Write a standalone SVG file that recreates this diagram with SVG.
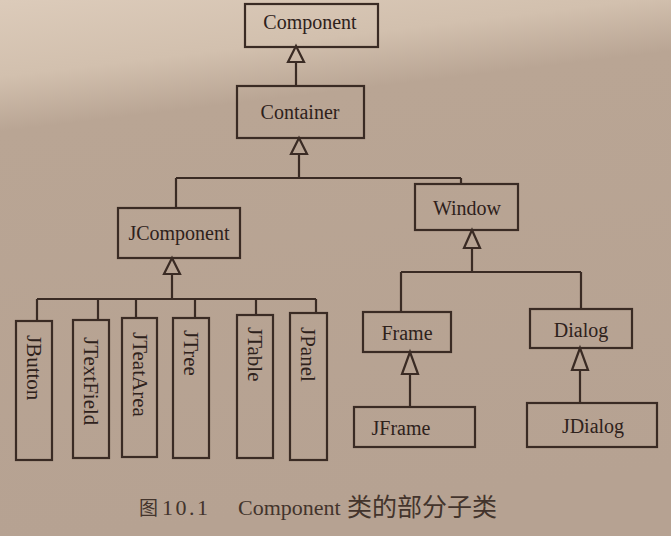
<svg xmlns="http://www.w3.org/2000/svg" width="671" height="536" viewBox="0 0 671 536">
<defs>
<linearGradient id="bg" x1="0" y1="0" x2="0.15" y2="1">
<stop offset="0" stop-color="#dccbba"/>
<stop offset="0.14" stop-color="#d2c0ae"/>
<stop offset="0.24" stop-color="#b9a594"/>
<stop offset="1" stop-color="#b6a292"/>
</linearGradient>
<style>
.b{fill:none;stroke:#3a2b24;stroke-width:2.2}
.l{fill:none;stroke:#3a2b24;stroke-width:2.2}
.t{fill:none;stroke:#3a2b24;stroke-width:2.2;stroke-linejoin:miter}
.tx{font-family:"Liberation Serif","Noto Sans CJK SC",serif;font-size:20px;fill:#2e211b;text-anchor:middle}
.vt{font-family:"Liberation Serif","Noto Sans CJK SC",serif;font-size:21px;fill:#2e211b;text-anchor:start}
.cap{font-family:"Liberation Serif","Noto Sans CJK SC",serif;font-size:22px;fill:#43342c}
</style>
</defs>
<rect width="671" height="536" fill="url(#bg)"/>
<g id="connectors">
<path class="l" d="M296 62V86"/>
<path class="t" d="M296 46L288 62H304Z"/>
<path class="l" d="M299 154V178M176 178H461M176 178V208M461 178V184"/>
<path class="t" d="M299 138L291 154H307Z"/>
<path class="l" d="M172 274V299M37 299H316M37 299V321M98 299V320M136 299V318M195 299V318M256 299V315M316 299V313"/>
<path class="t" d="M172 258L164 274H180Z"/>
<path class="l" d="M472 248V272M401 272H581M401 272V312M581 272V309"/>
<path class="t" d="M472 230L464 248H480Z"/>
<path class="l" d="M410 374V407"/>
<path class="t" d="M410 352L402 374H418Z"/>
<path class="l" d="M580 370V403"/>
<path class="t" d="M580 348L572 370H588Z"/>
</g>
<g id="Component"><rect class="b" x="245" y="4" width="133" height="43"/><text class="tx" x="310" y="29">Component</text></g>
<g id="Container"><rect class="b" x="237" y="86" width="127" height="52"/><text class="tx" x="300" y="119">Container</text></g>
<g id="JComponent"><rect class="b" x="118" y="208" width="122" height="50"/><text class="tx" x="179" y="240">JComponent</text></g>
<g id="Window"><rect class="b" x="415" y="184" width="103" height="46"/><text class="tx" x="467" y="215">Window</text></g>
<g id="JButton"><rect class="b" x="16" y="321" width="36" height="139"/><text class="vt" transform="translate(27 335) rotate(90)">JButton</text></g>
<g id="JTextField"><rect class="b" x="73" y="320" width="36" height="138"/><text class="vt" transform="translate(84 337) rotate(90)">JTextField</text></g>
<g id="JTeatArea"><rect class="b" x="122" y="318" width="35" height="139"/><text class="vt" transform="translate(133 332) rotate(90)">JTeatArea</text></g>
<g id="JTree"><rect class="b" x="173" y="318" width="36" height="140"/><text class="vt" transform="translate(184 330) rotate(90)">JTree</text></g>
<g id="JTable"><rect class="b" x="237" y="315" width="36" height="143"/><text class="vt" transform="translate(248 327) rotate(90)">JTable</text></g>
<g id="JPanel"><rect class="b" x="290" y="313" width="37" height="147"/><text class="vt" transform="translate(301 327) rotate(90)">JPanel</text></g>
<g id="Frame"><rect class="b" x="363" y="312" width="88" height="40"/><text class="tx" x="407" y="340">Frame</text></g>
<g id="Dialog"><rect class="b" x="530" y="309" width="102" height="39"/><text class="tx" x="581" y="337">Dialog</text></g>
<g id="JFrame"><rect class="b" x="354" y="407" width="121" height="40"/><text class="tx" x="401" y="435">JFrame</text></g>
<g id="JDialog"><rect class="b" x="527" y="403" width="130" height="44"/><text class="tx" x="593" y="433">JDialog</text></g>
<g id="caption">
<text class="cap" x="139" y="515" style="font-size:19px">图</text>
<text class="cap" x="162" y="515" textLength="46" lengthAdjust="spacing">10.1</text>
<text class="cap" x="238" y="515">Component</text>
<text class="cap" x="347" y="516" style="font-size:25px">类的部分子类</text>
</g>
</svg>
